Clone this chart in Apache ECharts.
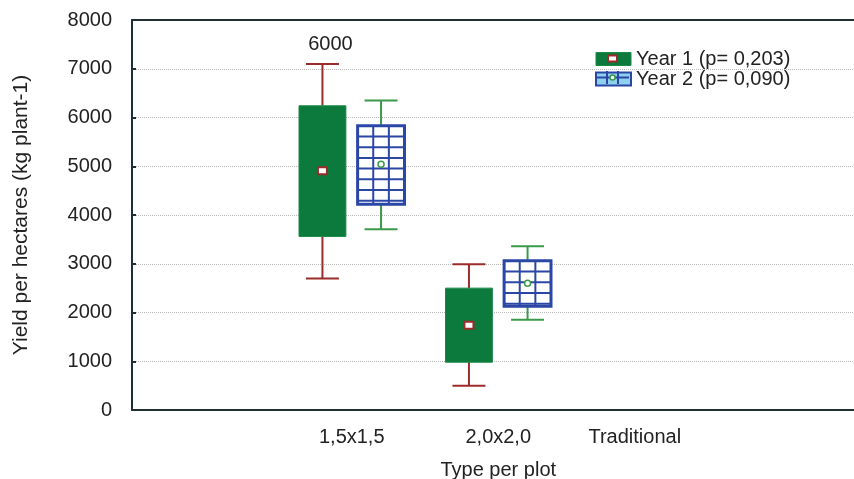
<!DOCTYPE html>
<html>
<head>
<meta charset="utf-8">
<script src="https://cdn.jsdelivr.net/npm/echarts@6/dist/echarts.min.js"></script>
<style>
  html, body { margin: 0; padding: 0; background: #fff; }
  #chart { width: 854px; height: 479px; }
</style>
</head>
<body>
<div id="chart"></div>
<script>
// categories (empty ones only carry a tick)
var categories = ["", "1,5x1,5", "2,0x2,0", "Traditional", ""];
var groupIndex = [1, 2];

// Year 1: min, Q1, median, Q3, max
var year1Min = [2700, 500];
var year1Q1 = [3560, 980];
var year1Median = [4910, 1740];
var year1Q3 = [6240, 2500];
var year1Max = [7100, 2990];
var year1Notes = ["6000", ""];

// Year 2: min, Q1, mean, Q3, max
var year2Min = [3710, 1850];
var year2Q1 = [4220, 2130];
var year2Mean = [5040, 2600];
var year2Q3 = [5830, 3060];
var year2Max = [6350, 3360];

var yTicks = [0, 1000, 2000, 3000, 4000, 5000, 6000, 7000, 8000];

var FONT = "Liberation Sans, Arial, sans-serif";
var RED = "#9c2b2b";
var GREEN = "#0c7a3c";
var LGREEN = "#3a9a4a";
var BLUE = "#2b47a6";

function buildData(mins, q1s, mids, q3s, maxs) {
  return groupIndex.map(function (c, i) {
    return [c, mins[i], q1s[i], mids[i], q3s[i], maxs[i]];
  });
}

function makeRender(offset, hatched, notes) {
  return function (params, api) {
    var band = api.size([1, 0])[0];
    var cx = api.coord([api.value(0), 0])[0] + offset * band;
    var yMin = api.coord([0, api.value(1)])[1];
    var yQ1 = api.coord([0, api.value(2)])[1];
    var yMid = api.coord([0, api.value(3)])[1];
    var yQ3 = api.coord([0, api.value(4)])[1];
    var yMax = api.coord([0, api.value(5)])[1];
    var w = band * 0.32;
    var cap = band * 0.225;
    var x0 = cx - w / 2;
    var wc = hatched ? LGREEN : RED;
    var wl = { stroke: wc, lineWidth: 2 };
    var kids = [
      { type: "line", shape: { x1: cx, y1: yMax, x2: cx, y2: yQ3 }, style: wl },
      { type: "line", shape: { x1: cx, y1: yQ1, x2: cx, y2: yMin }, style: wl },
      { type: "line", shape: { x1: cx - cap / 2, y1: yMax, x2: cx + cap / 2, y2: yMax }, style: wl },
      { type: "line", shape: { x1: cx - cap / 2, y1: yMin, x2: cx + cap / 2, y2: yMin }, style: wl }
    ];
    var h = yQ1 - yQ3;
    if (hatched) {
      kids.push({ type: "rect", shape: { x: x0, y: yQ3, width: w, height: h },
        style: { fill: "#fff", stroke: BLUE, lineWidth: 3 } });
      var hl = { stroke: BLUE, lineWidth: 2 };
      kids.push({ type: "line", shape: { x1: x0 + w / 3, y1: yQ3, x2: x0 + w / 3, y2: yQ1 }, style: hl });
      kids.push({ type: "line", shape: { x1: x0 + 2 * w / 3, y1: yQ3, x2: x0 + 2 * w / 3, y2: yQ1 }, style: hl });
      for (var yy = yQ3 + 10.7; yy < yQ1 - 2; yy += 10.7) {
        kids.push({ type: "line", shape: { x1: x0, y1: yy, x2: x0 + w, y2: yy }, style: hl });
      }
      kids.push({ type: "circle", shape: { cx: cx, cy: yMid, r: 3 },
        style: { fill: "#fff", stroke: LGREEN, lineWidth: 1.5 } });
    } else {
      kids.push({ type: "rect", shape: { x: x0, y: yQ3, width: w, height: h },
        style: { fill: GREEN, stroke: "#1a8a47", lineWidth: 1 } });
      kids.push({ type: "rect", shape: { x: cx - 4.5, y: yMid - 3.5, width: 9, height: 7 },
        style: { fill: "#fff", stroke: RED, lineWidth: 2 } });
    }
    var note = notes ? notes[params.dataIndex] : "";
    if (note) {
      kids.push({ type: "text", x: cx + 8, y: yMax - 19,
        style: { text: note, fill: "#222", font: "20px " + FONT, align: "center", verticalAlign: "middle" } });
    }
    return { type: "group", children: kids };
  };
}

var chart = echarts.init(document.getElementById("chart"));

var axisLine = { show: true, lineStyle: { color: "#1f3035", width: 2 } };
var tick = { inside: true, alignWithLabel: true, length: 4, lineStyle: { color: "#1f3035", width: 2 } };

// the last label sits a little left of its tick in the original
var xLabels = categories.map(function (c) {
  return c === "Traditional" ? { value: c, textStyle: { padding: [0, 20, 0, 0] } } : c;
});

chart.setOption({
  animation: false,
  textStyle: { fontFamily: FONT },
  grid: { left: 132, right: -10.5, top: 20, bottom: 69, outerBoundsMode: "none", containLabel: false },
  legend: {
    left: 590,
    top: 44,
    orient: "vertical",
    itemGap: 0,
    itemWidth: 35,
    itemHeight: 13,
    icon: "rect",
    textStyle: { fontSize: 20, color: "#222", lineHeight: 19 },
    data: [
      { name: "Year 1 (p= 0,203)", itemStyle: { color: GREEN, borderColor: "#1a8a47", borderWidth: 1 } },
      { name: "Year 2 (p= 0,090)", itemStyle: { color: "#8fd0ec", borderColor: BLUE, borderWidth: 2 } }
    ]
  },
  // small marks inside the legend icons
  graphic: [
    { type: "rect", shape: { x: 608, y: 55.5, width: 9, height: 6 },
      style: { fill: "#fff", stroke: RED, lineWidth: 2 }, z: 200 },
    { type: "line", shape: { x1: 607, y1: 71, x2: 607, y2: 84 }, style: { stroke: BLUE, lineWidth: 2 }, z: 200 },
    { type: "line", shape: { x1: 618, y1: 71, x2: 618, y2: 84 }, style: { stroke: BLUE, lineWidth: 2 }, z: 200 },
    { type: "line", shape: { x1: 596, y1: 77.5, x2: 629, y2: 77.5 }, style: { stroke: BLUE, lineWidth: 2 }, z: 200 },
    { type: "circle", shape: { cx: 612.5, cy: 77.5, r: 2.5 }, style: { fill: "#fff", stroke: LGREEN, lineWidth: 1.5 }, z: 201 }
  ],
  xAxis: [
    {
      type: "category",
      data: xLabels,
      position: "bottom",
      name: "Type per plot",
      nameLocation: "middle",
      nameGap: 50,
      nameTextStyle: { fontSize: 20, color: "#222" },
      axisLine: axisLine,
      axisTick: tick,
      axisLabel: { fontSize: 20, color: "#222", margin: 17 },
      splitLine: { show: false }
    },
    {
      type: "category",
      data: categories,
      position: "top",
      axisLine: axisLine,
      axisTick: tick,
      axisLabel: { show: false },
      splitLine: { show: false }
    }
  ],
  yAxis: {
    type: "value",
    min: yTicks[0],
    max: yTicks[yTicks.length - 1],
    interval: 1000,
    name: "Yield per hectares (kg plant-1)",
    nameLocation: "middle",
    nameGap: 100,
    nameTextStyle: { fontSize: 21, color: "#222" },
    axisLine: axisLine,
    axisTick: { show: true, inside: true, length: 4, lineStyle: { color: "#1f3035", width: 2 } },
    axisLabel: { fontSize: 20, color: "#222", margin: 20, formatter: function (v) { return String(v); } },
    splitLine: { show: true, lineStyle: { color: "#b8b8b8", type: "dotted", width: 1 } }
  },
  series: [
    {
      name: "Year 1 (p= 0,203)",
      type: "custom",
      itemStyle: { color: GREEN },
      encode: { x: 0, y: [1, 2, 3, 4, 5] },
      data: buildData(year1Min, year1Q1, year1Median, year1Q3, year1Max),
      renderItem: makeRender(-0.2, false, year1Notes)
    },
    {
      name: "Year 2 (p= 0,090)",
      type: "custom",
      itemStyle: { color: "#8fd0ec" },
      encode: { x: 0, y: [1, 2, 3, 4, 5] },
      data: buildData(year2Min, year2Q1, year2Mean, year2Q3, year2Max),
      renderItem: makeRender(0.2, true, null)
    }
  ]
});
</script>
</body>
</html>
